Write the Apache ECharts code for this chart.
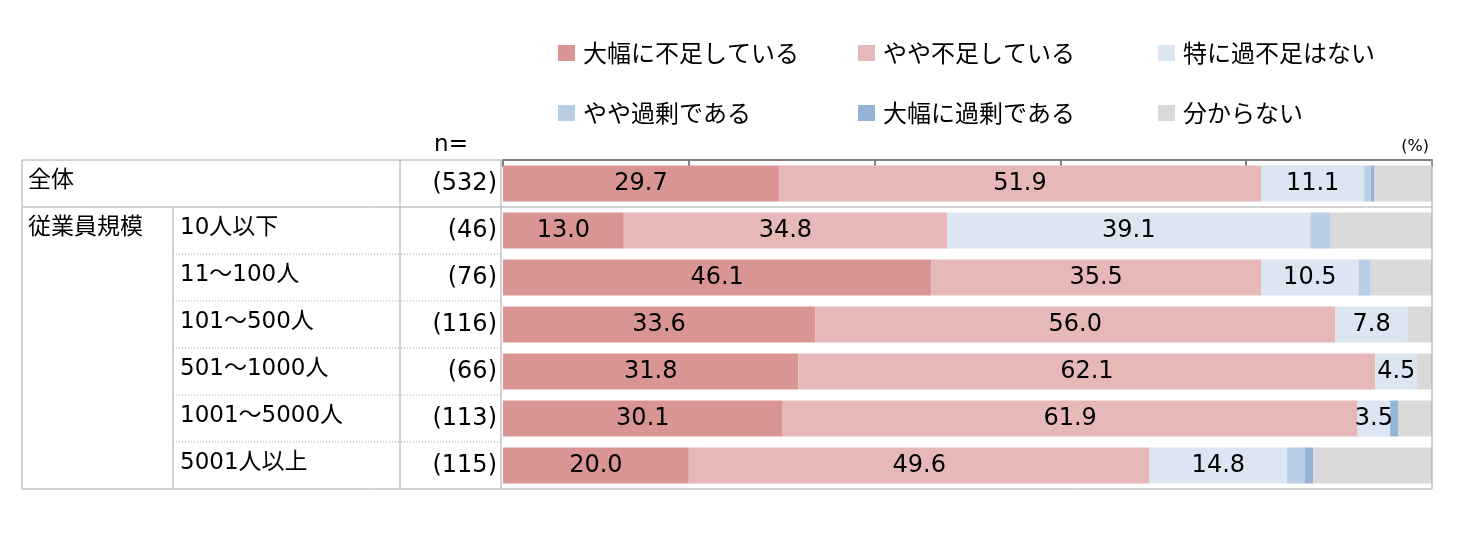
<!DOCTYPE html>
<html>
<head>
    <meta charset="utf-8">
    <title>過不足感</title>
    <script src="https://cdn.jsdelivr.net/npm/echarts@6/dist/echarts.min.js"></script>
    <style>
        html, body { margin: 0; padding: 0; background: #fff; }
        #main { width: 1466px; height: 547px; }
    </style>
</head>
<body>
<div id="main"></div>
<script>
    // 行ラベル・n数
    var categories = ['全体', '10人以下', '11～100人', '101～500人', '501～1000人', '1001～5000人', '5001人以上'];
    var groupLabels = ['全体', '従業員規模'];
    var nValues = [532, 46, 76, 116, 66, 113, 115];

    // 系列名
    var seriesNames = ['大幅に不足している', 'やや不足している', '特に過不足はない', 'やや過剰である', '大幅に過剰である', '分からない'];
    var seriesColors = ['#D99594', '#E6B9B8', '#DCE6F2', '#B9CDE5', '#95B3D7', '#D9D9D9'];

    // 各系列の値(%)
    var bigShort = [29.7, 13.0, 46.1, 33.6, 31.8, 30.1, 20.0];
    var someShort = [51.9, 34.8, 35.5, 56.0, 62.1, 61.9, 49.6];
    var noGap = [11.1, 39.1, 10.5, 7.8, 4.5, 3.5, 14.8];
    var someExcess = [0.7, 2.2, 1.3, 0, 0, 0, 1.9];
    var bigExcess = [0.4, 0, 0, 0, 0, 0.9, 0.9];
    var unknown = [6.2, 10.9, 6.6, 2.6, 1.6, 3.6, 12.8];

    var xTicks = [0, 20, 40, 60, 80, 100];

    var numFont = "'DejaVu Sans', 'Noto Sans CJK JP', sans-serif";
    var jpFont = "'Noto Sans CJK JP', sans-serif";

    var seriesData = [bigShort, someShort, noGap, someExcess, bigExcess, unknown];

    var series = seriesData.map(function (arr, i) {
        return {
            name: seriesNames[i],
            type: 'bar',
            stack: 'total',
            barWidth: 36,
            itemStyle: { color: seriesColors[i] },
            label: {
                show: i < 3,
                position: 'inside',
                color: '#000',
                fontFamily: numFont,
                fontSize: 24,
                formatter: function (p) { return p.value.toFixed(1); }
            },
            emphasis: { disabled: true },
            data: arr
        };
    });

    // 凡例は3列×2行、1項目ずつ配置
    var legendLeft = [553, 853, 1153];
    var legendTop = [36, 96];
    var legends = seriesNames.map(function (name, i) {
        return {
            data: [name],
            left: legendLeft[i % 3],
            top: legendTop[Math.floor(i / 3)],
            icon: 'rect',
            itemWidth: 17,
            itemHeight: 16,
            selectedMode: false,
            textStyle: { fontFamily: jpFont, fontSize: 24, color: '#000', padding: [0, 0, 0, 3] }
        };
    });

    var myChart = echarts.init(document.getElementById('main'));

    var option = {
        animation: false,
        legend: legends,
        grid: {
            left: 503,
            right: 34,
            top: 160,
            height: 329,
            containLabel: false
        },
        xAxis: {
            type: 'value',
            position: 'top',
            min: xTicks[0],
            max: xTicks[xTicks.length - 1],
            interval: xTicks[1] - xTicks[0],
            axisLine: { show: true, lineStyle: { color: '#808080', width: 2 } },
            axisTick: { show: true, inside: true, length: 7, lineStyle: { color: '#808080', width: 2 } },
            axisLabel: { show: false },
            splitLine: { show: false }
        },
        yAxis: [
            {
                type: 'category',
                inverse: true,
                data: categories,
                axisLine: { show: false },
                axisTick: { show: false },
                axisLabel: {
                    margin: 503 - 28,
                    align: 'left',
                    formatter: function (val, idx) {
                        if (idx === 0) return '{g|' + val + '}';
                        if (idx === 1) return '{g|' + groupLabels[1] + '}{s|' + val + '}';
                        return '{p|' + val + '}';
                    },
                    rich: {
                        g: { fontFamily: numFont, fontSize: 23, color: '#000', width: 152, padding: [0, 0, 4, 0] },
                        s: { fontFamily: numFont, fontSize: 23, color: '#000', padding: [0, 0, 4, 0] },
                        p: { fontFamily: numFont, fontSize: 23, color: '#000', padding: [0, 0, 4, 152] }
                    }
                }
            },
            {
                type: 'category',
                inverse: true,
                position: 'left',
                data: nValues.map(function (n) { return '(' + n + ')'; }),
                axisLine: { show: false },
                axisTick: { show: false },
                axisLabel: {
                    margin: 6,
                    align: 'right',
                    fontFamily: numFont,
                    fontSize: 24,
                    color: '#000'
                }
            }
        ],
        series: series
    };

    myChart.setOption(option);

    // 表の罫線
    function drawTable() {
        var c0 = myChart.convertToPixel({ yAxisIndex: 0 }, categories[0]);
        var c1 = myChart.convertToPixel({ yAxisIndex: 0 }, categories[1]);
        var band = c1 - c0;
        var top = c0 - band / 2;
        var bottom = top + band * categories.length;
        var xLeft = 22, xSub = 173, xN = 400, xBar = 501, xRight = 1432;
        var solid = { stroke: '#A6A6A6', lineWidth: 1 };
        var dotted = { stroke: '#A6A6A6', lineWidth: 1, lineDash: [1, 2] };
        var g = [];
        function line(x1, y1, x2, y2, style) {
            g.push({ type: 'line', silent: true, z: 10, shape: { x1: x1, y1: y1, x2: x2, y2: y2 }, style: style });
        }
        line(xLeft, top, xBar, top, solid);
        line(xLeft, top + band, xRight, top + band, solid);
        line(xLeft, bottom, xRight, bottom, solid);
        line(xLeft, top, xLeft, bottom, solid);
        line(xSub, top + band, xSub, bottom, solid);
        line(xN, top, xN, bottom, solid);
        line(xBar, top, xBar, bottom, solid);
        line(xRight, top, xRight, bottom, solid);
        for (var i = 2; i < categories.length; i++) {
            line(xSub, top + band * i, xBar, top + band * i, dotted);
        }
        g.push({
            type: 'text', silent: true,
            style: { text: 'n=', x: 451, y: top - 15, align: 'center', verticalAlign: 'middle', font: '23px ' + numFont, fill: '#000' }
        });
        g.push({
            type: 'text', silent: true,
            style: { text: '(%)', x: 1429, y: top - 13, align: 'right', verticalAlign: 'middle', font: '16px ' + numFont, fill: '#000' }
        });
        myChart.setOption({ graphic: g });
    }
    drawTable();
</script>
</body>
</html>
